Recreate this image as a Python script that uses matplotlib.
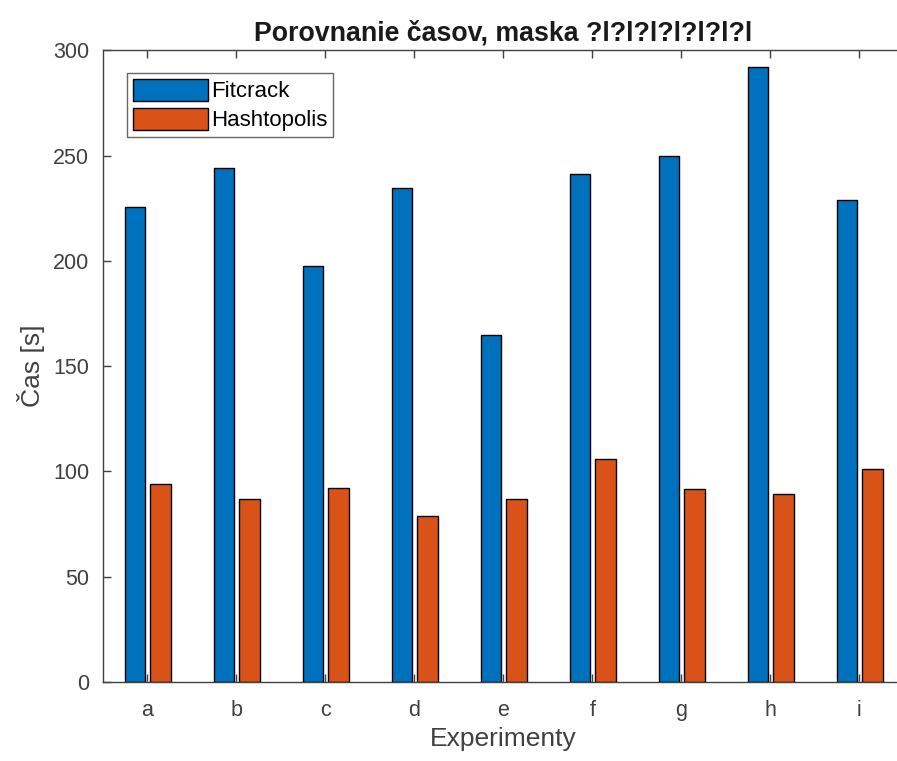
import numpy as np
import matplotlib.pyplot as plt

# Experiment labels and measured times (s)
experiments = ['a', 'b', 'c', 'd', 'e', 'f', 'g', 'h', 'i']
fitcrack = [225.5, 244, 197.5, 234.5, 165, 241, 250, 292, 229]
hashtopolis = [94, 87, 92, 79, 87, 106, 91.5, 89.5, 101]

plt.rcParams['font.family'] = ['Liberation Sans', 'DejaVu Sans']

fig = plt.figure(figsize=(8.97, 7.61), dpi=100)
# right edge of the axes runs past the figure, like the cropped original
ax = fig.add_axes([0.1148, 0.1038, 0.893, 0.8302])

x = np.arange(1, len(experiments) + 1)
w = 0.235
ax.bar(x - 0.14, fitcrack, width=w, color='#0072BD', edgecolor='black', linewidth=1.0, label='Fitcrack')
ax.bar(x + 0.15, hashtopolis, width=w, color='#D95319', edgecolor='black', linewidth=1.0, label='Hashtopolis')

ax.set_xlim(0.5, 9.5)
ax.set_ylim(0, 300)
ax.set_xticks(x)
ax.set_xticklabels(experiments)
ax.set_yticks(np.arange(0, 301, 50))

ax.tick_params(direction='in', length=6, width=1, colors='#404040', labelsize=15.5,
               top=True, right=False)
ax.tick_params(axis='x', pad=13)
ax.tick_params(axis='y', pad=10)
for s in ax.spines.values():
    s.set_color('#404040')
    s.set_linewidth(1)
ax.spines['right'].set_visible(False)

ax.set_xlabel('Experimenty', fontsize=19, color='#404040', labelpad=4)
ax.set_ylabel('Čas [s]', fontsize=19, color='#404040', labelpad=6)
ax.set_title('Porovnanie časov, maska ?l?l?l?l?l?l?l', fontsize=19.3, fontweight='bold',
             color='#1a1a1a', pad=7)

leg = ax.legend(loc='upper left', bbox_to_anchor=(0.03, 0.964), fontsize=16, frameon=True,
                fancybox=False, edgecolor='#404040', handlelength=3.4, handleheight=1.15,
                handletextpad=0.15, borderpad=0.25, labelspacing=0.25, borderaxespad=0)
leg.get_frame().set_linewidth(1)

fig.savefig('out.png', dpi=100)
